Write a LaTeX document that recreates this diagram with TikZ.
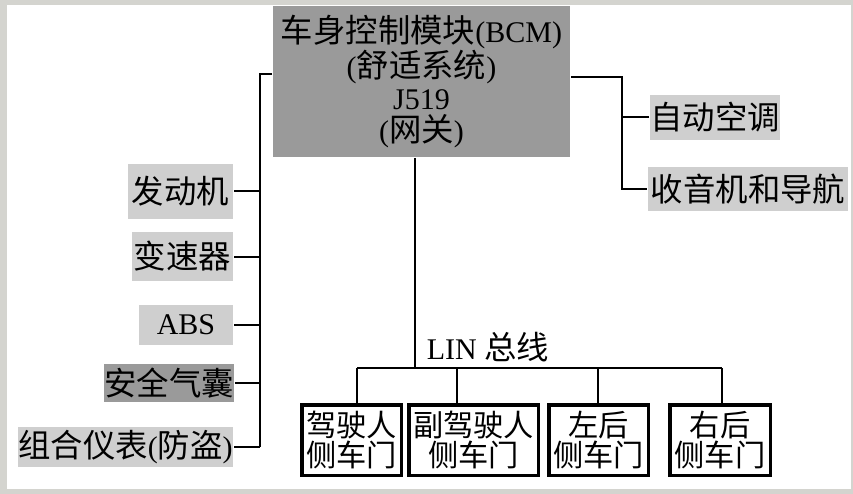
\documentclass[tikz,border=0pt]{standalone}
\usepackage{fontspec}
\setmainfont{Liberation Serif}
\newfontfamily\zh[Scale=1.08]{Noto Sans CJK SC}
\usetikzlibrary{positioning}
\definecolor{frame}{HTML}{D4D4CF}
\definecolor{light}{HTML}{CFCFCF}
\definecolor{dark}{HTML}{9A9A9A}

\begin{document}
\begin{tikzpicture}[x=1pt,y=-1pt,line width=2pt,
    box/.style={fill=light,inner sep=0pt,font=\fontsize{30}{32}\selectfont},
    door/.style={draw,line width=3.5pt,fill=white,inner sep=0pt,align=center,
      minimum height=70.5pt,font=\zh\fontsize{28}{26.5}\selectfont}]
  \useasboundingbox (0,0) rectangle (853,494);
  \fill[frame] (0,0) rectangle (853,494);
  \fill[white] (7,5) rectangle (851,489);
  % gateway
  \node [box,fill=dark,minimum width=297pt,minimum height=151pt,align=center,
         font=\fontsize{30}{32.3}\selectfont] (m_0) at (421.5,81.5)
    {{\zh 车身控制模块}(BCM)\\({\zh 舒适系统})\\J519\\({\zh 网关})};
  % left side
  \node [box,minimum width=105pt,minimum height=55pt] (l_1) at (180.5,191.5) {\zh 发动机};
  \node [box,minimum width=101pt,minimum height=49pt] (l_2) at (182.5,256.5) {\zh 变速器};
  \node [box,minimum width=94pt,minimum height=40pt] (l_3) at (186,325) {ABS\hspace{6pt}};
  \node [box,fill=dark,minimum width=128pt,minimum height=38pt] (l_4) at (169,383) {\zh 安全气囊};
  \node [box,minimum width=215pt,minimum height=40pt] (l_5) at (125.5,447) {{\zh 组合仪表}({\zh 防盗})};
  % right side
  \node [box,minimum width=130pt,minimum height=45pt] (r_1) at (715,117.5) {\zh 自动空调};
  \node [box,minimum width=200pt,minimum height=44pt] (r_2) at (748,189) {\zh 收音机和导航};
  % doors
  \node [door,minimum width=99.5pt] (d_1) at (351.5,440) {驾驶人\\侧车门};
  \node [door,minimum width=129.5pt] (d_2) at (473.5,440) {副驾驶人\\侧车门};
  \node [door,minimum width=99.5pt] (d_3) at (598.5,440) {左后\\侧车门};
  \node [door,minimum width=100.5pt] (d_4) at (720,440) {右后\\侧车门};
  \node [inner sep=0pt,font=\fontsize{30}{32}\selectfont] (lin) at (488,347) {LIN {\zh 总线}};

  \coordinate (l_top) at (260,74);
  \coordinate (r_top) at (622,77);
  \coordinate (c_bus) at (415,368);
  \draw (m_0.west |- l_top) -- (l_top) -- (l_top |- l_5.east);
  \foreach \i in {1,...,5}
    \draw (l_\i.east) -- (l_\i.east -| l_top);
  \draw (m_0.east |- r_top) -- (r_top) |- (r_2.west);
  \draw (r_1.west) -- (r_1.west -| r_top);
  \draw (m_0.south -| c_bus) -- (c_bus);
  \foreach \i/\x in {1/357,2/457,3/598,4/722}
    \coordinate (b_\i) at (\x,368);
  \draw[line width=1.5pt] (b_1) -- (b_4);
  \foreach \i in {1,...,4}
    \draw[line width=1.5pt] (b_\i) -- (b_\i |- d_\i.north);
\end{tikzpicture}
\end{document}
